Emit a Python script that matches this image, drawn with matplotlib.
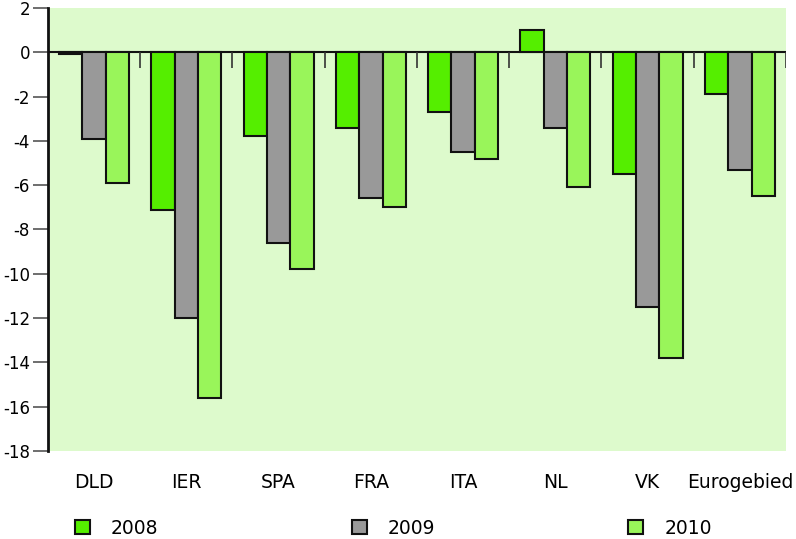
import numpy as np
import matplotlib
matplotlib.use('Agg')
import matplotlib.pyplot as plt

categories = ['DLD', 'IER', 'SPA', 'FRA', 'ITA', 'NL', 'VK', 'Eurogebied']
years = ['2008', '2009', '2010']
v2008 = [-0.1, -7.1, -3.8, -3.4, -2.7, 1.0, -5.5, -1.9]
v2009 = [-3.9, -12.0, -8.6, -6.6, -4.5, -3.4, -11.5, -5.3]
v2010 = [-5.9, -15.6, -9.8, -7.0, -4.8, -6.1, -13.8, -6.5]
colors = ['#55ee00', '#999999', '#99f55a']

plt.rcParams['font.family'] = ['DejaVu Sans']
plt.rcParams['axes.unicode_minus'] = False
fig = plt.figure(figsize=(7.96, 5.39), dpi=100)
ax = fig.add_axes([0.0603, 0.1633, 0.9271, 0.8219])
ax.set_facecolor('#ddfacc')

x = np.arange(len(categories))
w = 0.253
handles = []
for i, (vals, c, lab) in enumerate(zip([v2008, v2009, v2010], colors, years)):
    b = ax.bar(x + (i - 1) * w, vals, w, color=c, edgecolor='#111111',
               linewidth=1.5, label=lab, zorder=3)
    handles.append(b)

ax.axhline(0, color='#111111', lw=1.5, zorder=2)
ax.vlines(np.arange(len(categories)) + 0.5, -0.7, 0, color='#333333', lw=1.2, zorder=2)

ax.set_xlim(-0.5, len(categories) - 0.5)
ax.set_ylim(-18, 2)
ax.set_yticks(range(-18, 3, 2))
ax.set_xticks(x)
ax.set_xticklabels(categories)
ax.tick_params(axis='x', length=0, pad=16, labelsize=13.5)
ax.tick_params(axis='y', length=11, width=1.2, color='#555555', labelsize=12, pad=2)
for s in ['top', 'right', 'bottom']:
    ax.spines[s].set_visible(False)
ax.spines['left'].set_linewidth(2)
ax.spines['left'].set_color('#111111')

fig.legend(handles=handles, labels=years, loc='center left',
           bbox_to_anchor=(0.0942, 0.0204), ncol=3, frameon=False,
           fontsize=13.5, handlelength=0.8, handleheight=0.75,
           handletextpad=1.12, columnspacing=10.3,
           borderpad=0, borderaxespad=0)

fig.savefig('out.png', dpi=100)
